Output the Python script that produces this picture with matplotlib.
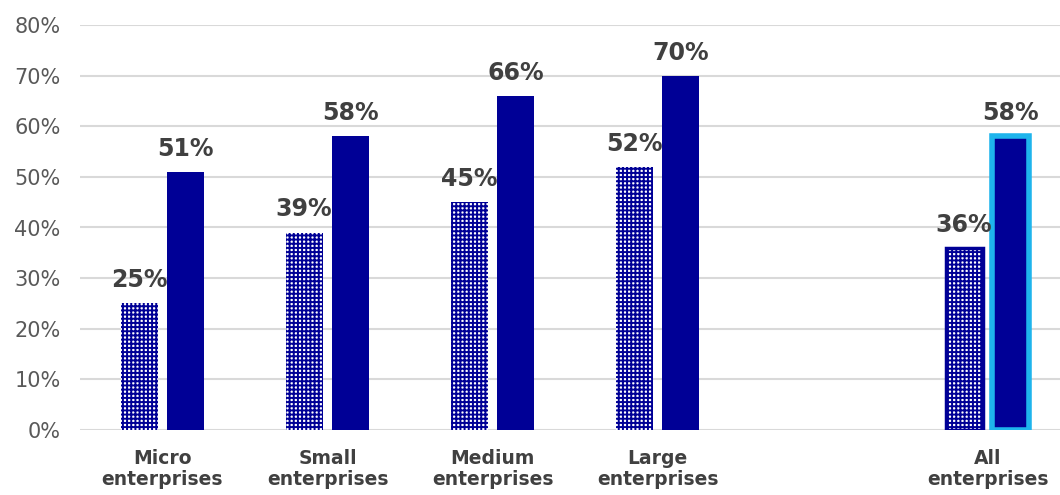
import matplotlib
matplotlib.use("Agg")
import matplotlib.pyplot as plt
import numpy as np

categories = ["Micro\nenterprises", "Small\nenterprises", "Medium\nenterprises",
              "Large\nenterprises", "", "All\nenterprises"]
series_a = [25, 39, 45, 52, None, 36]   # patterned
series_b = [51, 58, 66, 70, None, 58]   # solid
labels_a = ["25%", "39%", "45%", "52%", "", "36%"]
labels_b = ["51%", "58%", "66%", "70%", "", "58%"]
yticks = [0, 10, 20, 30, 40, 50, 60, 70, 80]

NAVY = "#000096"
LIGHT = "#1EB4EC"

plt.rcParams["hatch.linewidth"] = 1.4
plt.rcParams["font.family"] = ["DejaVu Sans"]

fig = plt.figure(figsize=(10.6, 4.95), dpi=100)
ax = fig.add_axes([80 / 1060, 65 / 495, 990 / 1060, 405 / 495])

x = np.arange(len(categories))
w = 0.225
off = 0.142
for i in range(len(categories)):
    a, b = series_a[i], series_b[i]
    if a is None:
        continue
    is_all = categories[i].startswith("All")
    ax.bar(x[i] - off, a, width=w, facecolor="white", edgecolor=NAVY,
           hatch="++++", linewidth=0, zorder=3)
    if is_all:
        ax.bar(x[i] - off, a, width=w, facecolor="none", edgecolor=NAVY,
               linewidth=2.5, zorder=4)
        ax.bar(x[i] + off, b, width=w, facecolor=NAVY, edgecolor=LIGHT,
               linewidth=4, zorder=3)
    else:
        ax.bar(x[i] + off, b, width=w, facecolor=NAVY, edgecolor=NAVY,
               linewidth=0, zorder=3)
    ax.annotate(labels_a[i], (x[i] - off, a), xytext=(0, 8), textcoords="offset points",
                ha="center", va="bottom", fontsize=17, fontweight="bold", color="#404040", zorder=5)
    ax.annotate(labels_b[i], (x[i] + off, b), xytext=(0, 8), textcoords="offset points",
                ha="center", va="bottom", fontsize=17, fontweight="bold", color="#404040", zorder=5)

ax.set_xlim(-0.5, len(categories) - 0.5)
ax.set_ylim(0, 80)
ax.set_yticks(yticks)
ax.set_yticklabels([f"{v}%" for v in yticks], fontsize=15, color="#595959")
ax.set_xticks(x)
ax.set_xticklabels(categories, fontsize=13.5, fontweight="bold", color="#404040",
                   linespacing=1.1)
ax.tick_params(axis="both", length=0)
ax.tick_params(axis="y", pad=14)
ax.tick_params(axis="x", pad=14)
ax.grid(axis="y", color="#D9D9D9", linewidth=1.5, zorder=0)
ax.set_axisbelow(True)
for s in ax.spines.values():
    s.set_visible(False)

fig.savefig("out.png", dpi=100)
